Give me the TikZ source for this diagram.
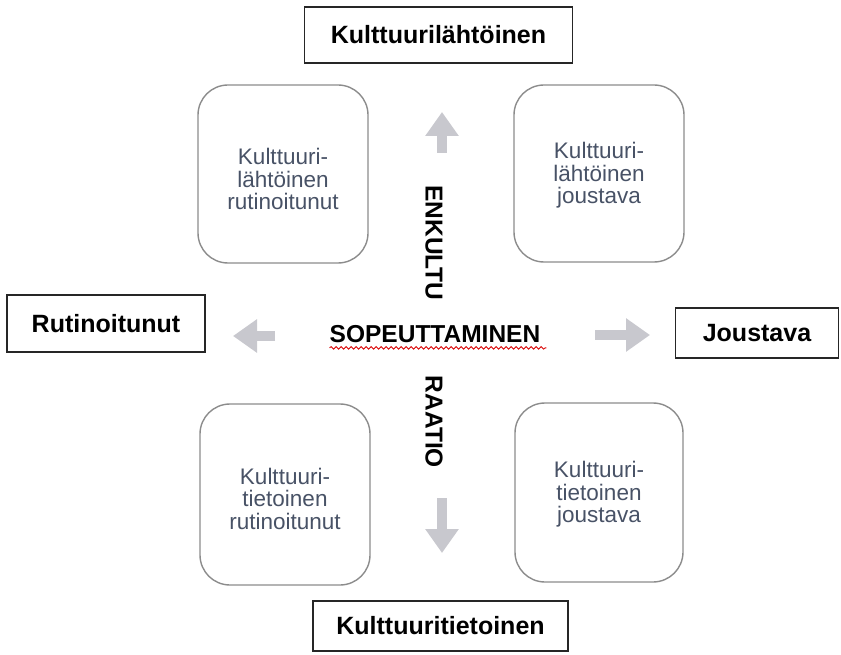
\documentclass[tikz,border=0pt]{standalone}
\usepackage{fontspec}
\setmainfont{Liberation Sans}
\usetikzlibrary{arrows.meta,decorations.pathmorphing}
\definecolor{boxtext}{RGB}{72,82,102}
\definecolor{arrowgray}{RGB}{200,200,206}
\definecolor{roundgray}{RGB}{140,140,140}
\begin{document}
\begin{tikzpicture}[x=1pt,y=-1pt,
  labelbox/.style={draw=black!85,line width=1.3pt,inner sep=0pt,align=center,
    font=\bfseries\fontsize{25}{28}\selectfont},
  quad/.style={draw=roundgray,line width=1.4pt,rounded corners=30pt,inner sep=0pt,
    align=center,text=boxtext,font=\fontsize{22.5}{22.5}\selectfont},
  quadtext/.style={inner sep=0pt,align=center,text=boxtext,font=\fontsize{22.5}{22.5}\selectfont},
  blockarrow/.style={draw=arrowgray,line width=10pt,-{Triangle[width=32pt,length=24pt]}},
  axistext/.style={inner sep=0pt,font=\bfseries\fontsize{24.5}{26}\selectfont}]
\useasboundingbox (0,0) rectangle (841,655);
\fill[white] (0,0) rectangle (841,655);

% label boxes
\node[labelbox,minimum width=268pt,minimum height=56pt] (top) at (438.5,35) {Kulttuurilähtöinen};
\node[labelbox,minimum width=198pt,minimum height=57pt] (left) at (106,323.5) {Rutinoitunut};
\node[labelbox,minimum width=163pt,minimum height=50pt] (right) at (757,333) {Joustava};
\node[labelbox,minimum width=255pt,minimum height=50pt] (bottom) at (440.5,626) {Kulttuuritietoinen};

% rounded quadrant boxes
\node[quad,minimum width=170pt,minimum height=178pt] (tl) at (283,174) {};
\node[quad,minimum width=170pt,minimum height=177pt] (tr) at (599,173.5) {};
\node[quad,minimum width=170pt,minimum height=181pt] (bl) at (285,494.5) {};
\node[quad,minimum width=168pt,minimum height=179pt] (br) at (599,492.5) {};
\node[quadtext] (tlt) at ([yshift=-5pt]tl.center) {Kulttuuri-\\lähtöinen\\rutinoitunut};
\node[quadtext] (trt) at ([yshift=-2pt]tr.center) {Kulttuuri-\\lähtöinen\\joustava};
\node[quadtext] (blt) at ([yshift=-4pt]bl.center) {Kulttuuri-\\tietoinen\\rutinoitunut};
\node[quadtext] (brt) at ([yshift=-2pt]br.center) {Kulttuuri-\\tietoinen\\joustava};

% axis texts
\node[axistext,rotate=-90] (enk) at (434,243) {ENKULTU};
\node[axistext,rotate=-90] (raa) at (434,422) {RAATIO};
\node[axistext] (sop) at (435,334) {SOPEUTTAMINEN};
\draw[red!85!black,line width=0.8pt,decorate,decoration={snake,amplitude=1.3pt,segment length=5pt}]
  ([xshift=0pt,yshift=-5pt]sop.south west) -- ([xshift=6pt,yshift=-5pt]sop.south east);

% block arrows
\coordinate (ua1) at (442,153); \coordinate (ua2) at (442,112);
\coordinate (da1) at (442,498); \coordinate (da2) at (442,553);
\coordinate (la1) at (275,336); \coordinate (la2) at (233,336);
\coordinate (ra1) at (595,335); \coordinate (ra2) at (650,335);
\draw[blockarrow] (ua1) -- (ua2);
\draw[blockarrow] (da1) -- (da2);
\draw[blockarrow] (la1) -- (la2);
\draw[blockarrow] (ra1) -- (ra2);
\end{tikzpicture}
\end{document}
